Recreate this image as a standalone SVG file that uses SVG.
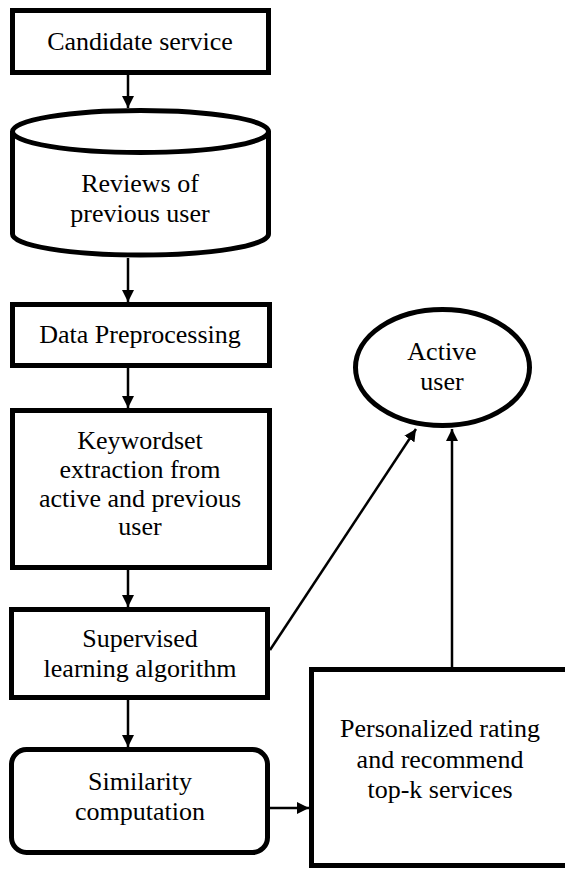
<svg xmlns="http://www.w3.org/2000/svg" width="565" height="870" viewBox="0 0 565 870">
<style>
.n{fill:#fff;stroke:#000;stroke-width:5}
.t{font-family:"Liberation Serif","Times New Roman",serif;font-size:26px;fill:#000;text-anchor:middle}
.c{stroke:#000;stroke-width:2.5;fill:none}
</style>
<defs>
<marker id="ah" markerWidth="12" markerHeight="12" refX="12" refY="6" orient="auto" markerUnits="userSpaceOnUse">
<path d="M0,0 L12,6 L0,12 Z" fill="#000"/>
</marker>
</defs>
<rect width="565" height="870" fill="#fff"/>
<g id="connectors">
<line class="c" x1="128" y1="75" x2="128" y2="108" marker-end="url(#ah)"/>
<line class="c" x1="128" y1="258" x2="128" y2="302" marker-end="url(#ah)"/>
<line class="c" x1="128" y1="368" x2="128" y2="408" marker-end="url(#ah)"/>
<line class="c" x1="128" y1="570" x2="128" y2="607" marker-end="url(#ah)"/>
<line class="c" x1="128" y1="700" x2="128" y2="747" marker-end="url(#ah)"/>
<line class="c" x1="270" y1="808" x2="309" y2="808" marker-end="url(#ah)"/>
<line class="c" x1="270" y1="650" x2="416" y2="429" marker-end="url(#ah)"/>
<line class="c" x1="452" y1="667" x2="452" y2="429" marker-end="url(#ah)"/>
</g>
<g id="candidate">
<rect class="n" x="12.5" y="10.5" width="256" height="62"/>
<text class="t" x="140" y="50">Candidate service</text>
</g>
<g id="reviews">
<path class="n" d="M12.5,131.5 L12.5,234 A128,21 0 0 0 268.5,234 L268.5,131.5 A128,21 0 0 0 12.5,131.5 Z"/>
<path class="n" style="fill:none" d="M12.5,131.5 A128,21 0 0 0 268.5,131.5"/>
<text class="t" x="140" y="192">Reviews of</text>
<text class="t" x="140" y="222">previous user</text>
</g>
<g id="preprocessing">
<rect class="n" x="12.5" y="304.5" width="257" height="61"/>
<text class="t" x="140" y="343">Data Preprocessing</text>
</g>
<g id="keywordset">
<rect class="n" x="12.5" y="410.5" width="257" height="157"/>
<text class="t" x="140" y="449">Keywordset</text>
<text class="t" x="140" y="478">extraction from</text>
<text class="t" x="140" y="507">active and previous</text>
<text class="t" x="140" y="535">user</text>
</g>
<g id="supervised">
<rect class="n" x="11.5" y="609.5" width="256" height="88"/>
<text class="t" x="140" y="647">Supervised</text>
<text class="t" x="140" y="677">learning algorithm</text>
</g>
<g id="similarity">
<rect class="n" x="11.5" y="749.5" width="256" height="103" rx="15" ry="15"/>
<text class="t" x="140" y="790">Similarity</text>
<text class="t" x="140" y="820">computation</text>
</g>
<g id="active">
<ellipse class="n" cx="442.5" cy="367.5" rx="87" ry="58"/>
<text class="t" x="442" y="360">Active</text>
<text class="t" x="442" y="390">user</text>
</g>
<g id="personalized">
<rect class="n" x="311.5" y="669.5" width="270" height="196"/>
<text class="t" x="440" y="737">Personalized rating</text>
<text class="t" x="440" y="768">and recommend</text>
<text class="t" x="440" y="798">top-k services</text>
</g>
</svg>
